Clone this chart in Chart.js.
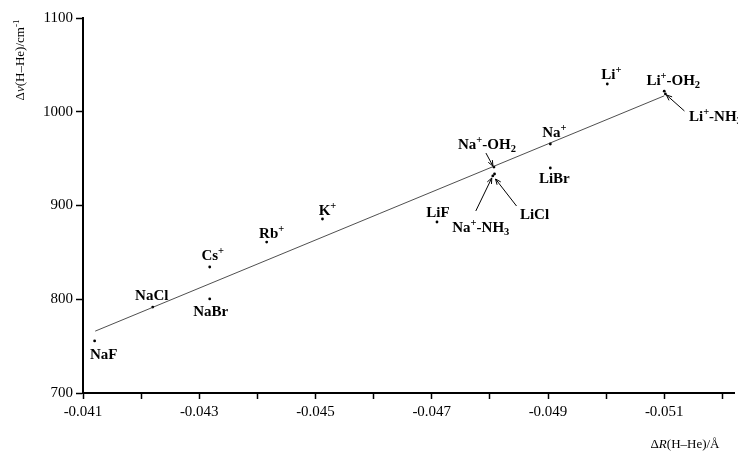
<!DOCTYPE html>
<html>
<head>
<meta charset="utf-8">
<script src="https://cdn.jsdelivr.net/npm/chart.js@4"></script>
<style>
  body { margin: 0; background: #fff; }
  #wrap { width: 738px; height: 452px; position: relative; }
</style>
</head>
<body>
<div id="wrap"><canvas id="scatterChart"></canvas></div>
<script>
// species, markup: ^ = superscript char, _ = subscript char
const species = ["NaF", "NaCl", "NaBr", "Cs^+", "Rb^+", "K^+", "LiF", "Na^+-OH_2", "Na^+-NH_3", "LiCl",
                 "Na^+", "LiBr", "Li^+", "Li^+-OH_2", "Li^+-NH_3"];
const deltaR = [-0.0412, -0.0422, -0.04318, -0.04318, -0.04416, -0.04512, -0.04709, -0.04807, -0.04805, -0.04808,
                -0.04904, -0.04904, -0.05002, -0.0510, -0.05102];
const deltaNu = [755.5, 791.7, 800.3, 834.4, 861, 885.6, 882.4, 941, 931.5, 933.6,
                 965.6, 940, 1029.6, 1022, 1019];

// fitted line end points
const fitR = [-0.04121, -0.0510];
const fitNu = [766, 1017];

const yTicks = [700, 800, 900, 1000, 1100];

// label placement relative to the point (px): [dx, dy] and optional arrow [x0, y0, x1, y1]
const labelPlace = [
  [9, 13], [-1, -12], [1, 12], [3, -12], [5, -9], [5, -9], [1, -10],
  [-7, -23, -8, -14, -1, -1],
  [-12, 51, -17, 35, -1, 2],
  [40, 40, 22, 32, 1, 5],
  [4, -12], [4, 10], [4, -10], [9, -11],
  [50, 22, 19, 17, 1, 1]
];

const serif = '"Liberation Serif", "Times New Roman", serif';

function parseRich(s) {
  const segs = [];
  let i = 0, italic = false, buf = '';
  const push = (t, mode) => { if (t) segs.push({ t, mode, italic }); };
  while (i < s.length) {
    const c = s[i];
    if (c === '^' || c === '_') {
      push(buf, 0); buf = '';
      let t;
      if (s[i + 1] === '{') { const j = s.indexOf('}', i); t = s.slice(i + 2, j); i = j + 1; }
      else { t = s[i + 1]; i += 2; }
      push(t, c === '^' ? 1 : -1);
    } else if (c === '~') {
      push(buf, 0); buf = ''; italic = !italic; i++;
    } else { buf += c; i++; }
  }
  push(buf, 0);
  return segs;
}

function drawRich(ctx, s, cx, cy, size, weight) {
  const segs = parseRich(s);
  const fontOf = sg => (sg.italic ? 'italic ' : '') + weight + ' ' + (sg.mode ? size * 0.7 : size) + 'px ' + serif;
  let total = 0;
  segs.forEach(sg => { ctx.font = fontOf(sg); sg.w = ctx.measureText(sg.t).width; total += sg.w; });
  let x = cx - total / 2;
  const base = cy + size * 0.33;
  ctx.textAlign = 'left';
  ctx.textBaseline = 'alphabetic';
  ctx.fillStyle = '#000';
  segs.forEach(sg => {
    ctx.font = fontOf(sg);
    let dy = 0;
    if (sg.mode === 1) dy = -size * 0.38;
    if (sg.mode === -1) dy = size * 0.22;
    ctx.fillText(sg.t, x, base + dy);
    x += sg.w;
  });
}

function arrow(ctx, x0, y0, x1, y1) {
  ctx.beginPath();
  ctx.moveTo(x0, y0);
  ctx.lineTo(x1, y1);
  const a = Math.atan2(y1 - y0, x1 - x0);
  const h = 6;
  ctx.moveTo(x1 - h * Math.cos(a - 0.4), y1 - h * Math.sin(a - 0.4));
  ctx.lineTo(x1, y1);
  ctx.lineTo(x1 - h * Math.cos(a + 0.4), y1 - h * Math.sin(a + 0.4));
  ctx.stroke();
}

const labelPlugin = {
  id: 'pointLabels',
  afterDatasetsDraw(chart) {
    const ctx = chart.ctx;
    const xs = chart.scales.x, ys = chart.scales.y;
    ctx.save();
    ctx.strokeStyle = '#000';
    ctx.lineWidth = 1;
    species.forEach((name, i) => {
      const px = xs.getPixelForValue(deltaR[i]);
      const py = ys.getPixelForValue(deltaNu[i]);
      const p = labelPlace[i];
      drawRich(ctx, name, px + p[0], py + p[1], 15, 'bold');
      if (p.length > 2) arrow(ctx, px + p[2], py + p[3], px + p[4], py + p[5]);
    });
    // axis titles
    drawRich(ctx, '\u0394~R~(H\u2013He)/\u00c5', 685, 444, 13, 'normal');
    ctx.translate(20, 60);
    ctx.rotate(-Math.PI / 2);
    drawRich(ctx, '\u0394~\u03bd~(H\u2013He)/cm^{-1}', 0, 0, 13, 'normal');
    ctx.restore();
  }
};

let chartInstance;

document.addEventListener("DOMContentLoaded", function () {
  let ctx = document.getElementById("scatterChart").getContext("2d");

  chartInstance = new Chart(ctx, {
    type: "scatter",
    data: {
      datasets: [{
        type: "line",
        data: fitR.map((r, i) => ({ x: r, y: fitNu[i] })),
        borderColor: "#222",
        borderWidth: 0.8,
        pointRadius: 0,
        fill: false
      }, {
        data: deltaR.map((r, i) => ({ x: r, y: deltaNu[i] })),
        backgroundColor: "#000",
        borderWidth: 0,
        pointRadius: 1.4
      }]
    },
    options: {
      responsive: true,
      maintainAspectRatio: false,
      animation: false,
      layout: { padding: { top: 18, right: 2, left: 0, bottom: 0 } },
      plugins: { legend: { display: false }, tooltip: { enabled: false } },
      scales: {
        x: {
          type: "linear",
          reverse: true,
          min: -0.0522,
          max: -0.041,
          afterFit: s => { s.height = 59; },
          border: { display: true, color: "#000", width: 2 },
          grid: { drawOnChartArea: false, tickLength: 6, tickColor: "#000", tickWidth: 1.5 },
          ticks: {
            stepSize: 0.001,
            includeBounds: false,
            autoSkip: false,
            maxRotation: 0,
            color: "#000",
            padding: 4,
            font: { family: serif, size: 15 },
            callback: v => (Math.abs(Math.round(v * 1000)) % 2 === 1 ? v.toFixed(3) : "")
          }
        },
        y: {
          min: yTicks[0],
          max: yTicks[yTicks.length - 1],
          afterFit: s => { s.width = 83; },
          afterBuildTicks: s => { s.ticks = yTicks.map(v => ({ value: v })); },
          border: { display: true, color: "#000", width: 2 },
          grid: { drawOnChartArea: false, tickLength: 7, tickColor: "#000", tickWidth: 1.5 },
          ticks: {
            color: "#000",
            padding: 3,
            font: { family: serif, size: 15 },
            callback: v => String(v)
          }
        }
      }
    },
    plugins: [labelPlugin]
  });
});
</script>
</body>
</html>
